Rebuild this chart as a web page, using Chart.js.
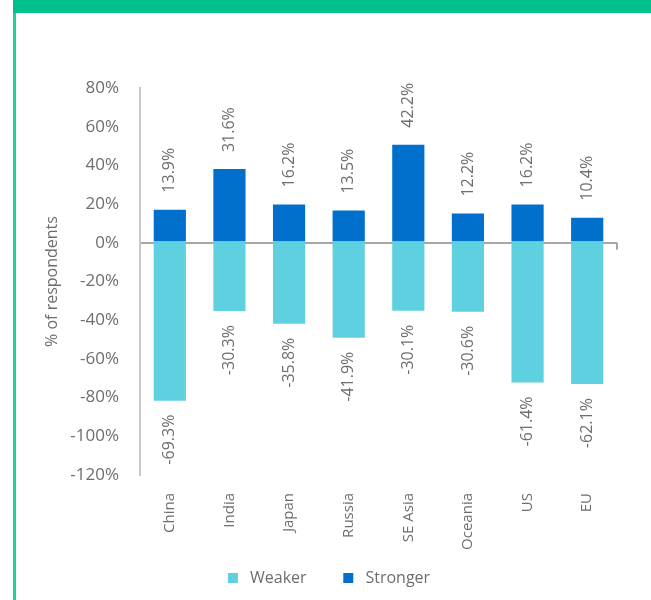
<!DOCTYPE html>
<html>
<head>
<meta charset="utf-8">
<script src="https://cdn.jsdelivr.net/npm/chart.js@4"></script>
<style>
  html, body { margin: 0; padding: 0; background: #fff; }
  #wrap { position: relative; width: 651px; height: 600px; overflow: hidden; }
  #header { position: absolute; left: 13px; top: 0; width: 638px; height: 13px; background: #00C08E; }
  #leftbar { position: absolute; left: 13px; top: 13px; width: 3px; height: 587px; background: #1DD29B; }
  #c { position: absolute; left: 0; top: 0; }
</style>
</head>
<body>
<div id="wrap">
  <div id="header"></div>
  <div id="leftbar"></div>
  <canvas id="c" width="651" height="600"></canvas>
</div>
<script>
const categories = ['China', 'India', 'Japan', 'Russia', 'SE Asia', 'Oceania', 'US', 'EU'];
const weaker = [-69.3, -30.3, -35.8, -41.9, -30.1, -30.6, -61.4, -62.1];
const stronger = [13.9, 31.6, 16.2, 13.5, 42.2, 12.2, 16.2, 10.4];
const axisTicks = [80, 60, 40, 20, 0, -20, -40, -60, -80, -100, -120];

const GRAY = '#6D6E71';
const FONT = "'Open Sans', sans-serif";

const labelPlugin = {
  id: 'barLabels',
  afterDatasetsDraw(chart) {
    const ctx = chart.ctx;
    ctx.save();
    ctx.fillStyle = GRAY;
    ctx.font = "16px " + FONT;
    ctx.textBaseline = 'middle';
    chart.data.datasets.forEach((ds, di) => {
      const meta = chart.getDatasetMeta(di);
      meta.data.forEach((el, i) => {
        const v = ds.data[i];
        const txt = v.toFixed(1) + '%';
        ctx.save();
        if (v >= 0) {
          ctx.translate(el.x, el.y - 17);
          ctx.rotate(-Math.PI / 2);
          ctx.textAlign = 'left';
        } else {
          ctx.translate(el.x, el.y + 14);
          ctx.rotate(-Math.PI / 2);
          ctx.textAlign = 'right';
        }
        ctx.fillText(txt, 0, 0);
        ctx.restore();
      });
    });
    const y = chart.scales.y.getPixelForValue(0);
    const r = chart.chartArea.right;
    ctx.strokeStyle = '#A6A6A6';
    ctx.lineWidth = 2;
    ctx.beginPath();
    ctx.moveTo(r, y);
    ctx.lineTo(r, y + 7);
    ctx.stroke();
    ctx.restore();
  }
};

new Chart(document.getElementById('c'), {
  type: 'bar',
  data: {
    labels: categories,
    datasets: [
      { label: 'Weaker', data: weaker, backgroundColor: '#5FD0DF', yAxisID: 'yD', stack: 's' },
      { label: 'Stronger', data: stronger, backgroundColor: '#0070CC', yAxisID: 'yD', stack: 's' }
    ]
  },
  options: {
    responsive: false,
    animation: false,
    categoryPercentage: 1,
    barPercentage: 0.54,
    layout: { padding: { left: 41, right: 34, top: 88, bottom: 4 } },
    plugins: {
      legend: {
        position: 'bottom',
        labels: {
          boxWidth: 10, boxHeight: 10, color: GRAY,
          font: { family: FONT, size: 16 }, padding: 20,
          generateLabels(chart) {
            const base = Chart.defaults.plugins.legend.labels.generateLabels(chart);
            base.forEach((l, i) => { l.text = i === 0 ? ' ' + l.text + '    ' : ' ' + l.text; });
            return base;
          }
        }
      },
      tooltip: { enabled: false }
    },
    scales: {
      x: {
        stacked: true,
        afterFit(scale) { scale.height = 75; },
        grid: { display: false },
        border: { display: false },
        ticks: {
          color: GRAY, font: { family: FONT, size: 15 },
          minRotation: 90, maxRotation: 90, padding: 10
        }
      },
      y: {
        position: 'left',
        min: -120, max: 80,
        afterFit(scale) { scale.width = 99; },
        afterBuildTicks(scale) { scale.ticks = axisTicks.map(v => ({ value: v })); },
        ticks: {
          color: GRAY, font: { family: FONT, size: 17 }, padding: 21,
          callback: v => v + '%'
        },
        grid: {
          drawTicks: false,
          color: c => (c.tick && c.tick.value === 0) ? '#A6A6A6' : 'rgba(0,0,0,0)',
          lineWidth: 2
        },
        border: { display: true, color: '#C8C8C8', width: 2 },
        title: {
          display: true, text: '% of respondents', color: GRAY,
          font: { family: FONT, size: 16 }, padding: 2
        }
      },
      yD: {
        display: false,
        stacked: true,
        min: -101.7, max: 66.9
      }
    }
  },
  plugins: [labelPlugin]
});
</script>
</body>
</html>
